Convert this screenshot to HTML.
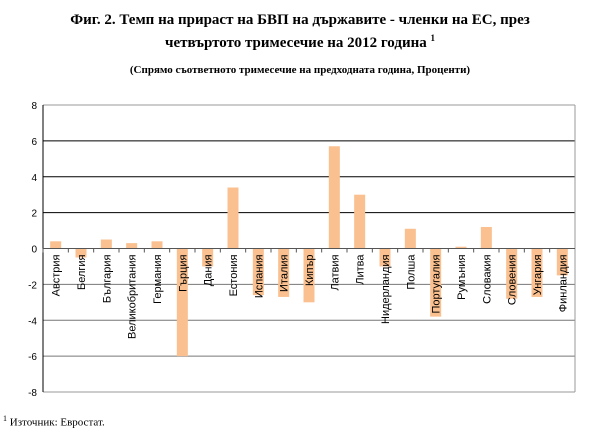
<!DOCTYPE html>
<html><head><meta charset="utf-8"><style>
body{margin:0;background:#fff;width:613px;height:433px;overflow:hidden;font-family:"Liberation Serif",serif;}
.t{position:absolute;left:0;width:600px;text-align:center;font-weight:bold;color:#000;}
</style></head><body>
<div class="t" style="top:11px;font-size:15px;line-height:18px;">Фиг. 2. Темп на прираст на БВП на държавите - членки на ЕС, през<br>четвъртото тримесечие на 2012 година <sup style="font-size:9px">1</sup></div>
<div class="t" style="top:64px;font-size:11px;">(Спрямо съответното тримесечие на предходната година, Проценти)</div>
<svg id="ch" width="613" height="433" style="position:absolute;left:0;top:0"></svg>
<div style="position:absolute;left:3px;top:414px;font-size:11px;"><sup style="font-size:8px">1</sup> Източник: Евростат.</div>
<script>
const categories=["Австрия","Белгия","България","Великобритания","Германия","Гърция","Дания","Естония","Испания","Италия","Кипър","Латвия","Литва","Нидерландия","Полша","Португалия","Румъния","Словакия","Словения","Унгария","Финландия"];
const values=[0.4,-0.5,0.5,0.3,0.4,-6.0,-1.0,3.4,-2.6,-2.7,-3.0,5.7,3.0,-1.0,1.1,-3.8,0.1,1.2,-2.8,-2.7,-1.5];
const ticks=[8,6,4,2,0,-2,-4,-6,-8];
const NS="http://www.w3.org/2000/svg";
const svg=document.getElementById('ch');
const L=43,R=575,T=105,B=392;
const y=v=>T+(8-v)*(B-T)/16;
const bw=(R-L)/categories.length;
const x=i=>L+bw*i;
function mk(t,a){const e=document.createElementNS(NS,t);for(const k in a)e.setAttribute(k,a[k]);svg.appendChild(e);return e;}
ticks.forEach(t=>{
  const g=mk('line',{x1:L,x2:R,y1:y(t),y2:y(t),stroke:(t===8||t===-8)?'#999':(t<0?'#777':'#000'),'stroke-width':1});
  
  
  const l=mk('text',{x:L-6,y:y(t)+4,'text-anchor':'end','font-size':10,'font-family':'Liberation Sans, sans-serif'});
  l.textContent=t;
  
  
});
mk('line',{x1:R,x2:R,y1:T,y2:B,stroke:'#999'});
values.forEach((v,i)=>{
  const cx=x(i)+bw/2;
  const r=mk('rect',{x:cx-5.5,width:11,y:Math.min(y(v),y(0)),height:Math.abs(y(v)-y(0)),fill:'#fac090'});
  
  
});
mk('line',{x1:L,x2:L,y1:T,y2:B,stroke:'#000'});
mk('line',{x1:L,x2:R,y1:y(0),y2:y(0),stroke:'#555'});
categories.forEach((c,i)=>{
  const tx=x(i);
  mk('line',{x1:tx,x2:tx,y1:y(0),y2:y(0)+4,stroke:'#555'});
  const cx=x(i)+bw/2;
  const t=mk('text',{transform:`translate(${cx+4},${y(0)+6}) rotate(-90)`,'text-anchor':'end','font-size':11,'font-family':'Liberation Sans, sans-serif'});
  t.textContent=c;
  
  
});
</script>
</body></html>
